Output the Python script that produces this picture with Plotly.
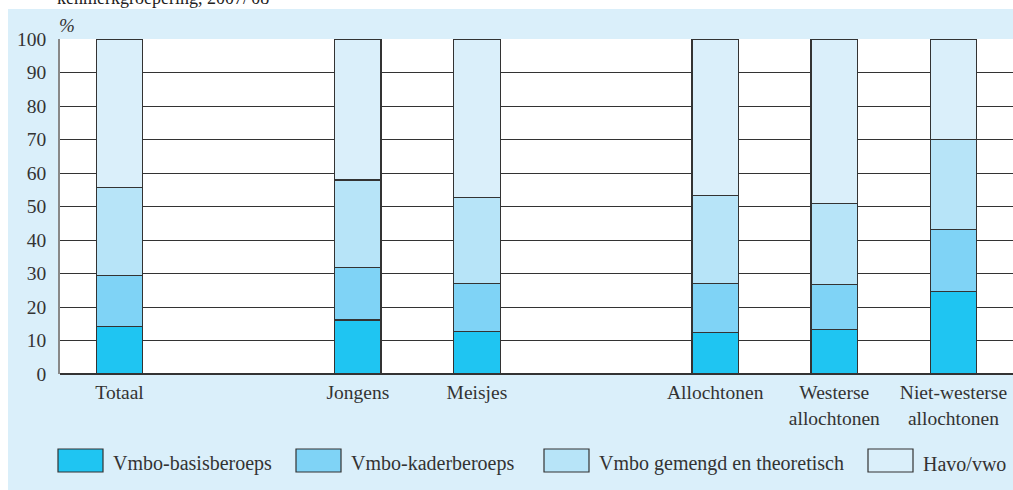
import plotly.graph_objects as go

# Leerlingen in leerjaar 3 naar onderwijssoort, per kenmerkgroep (%)
categories = ["Totaal", "Jongens", "Meisjes", "Allochtonen",
              "Westerse<br>allochtonen", "Niet-westerse<br>allochtonen"]
groups = [[0], [1, 2], [3, 4, 5]]  # index into categories, gap between groups

series = ["Vmbo-basisberoeps", "Vmbo-kaderberoeps",
          "Vmbo gemengd en theoretisch", "Havo/vwo"]
basis = [14.3, 16.1, 12.8, 12.3, 13.3, 24.6]
kader = [15.2, 15.7, 14.2, 14.7, 13.3, 18.6]
gemengd = [26.1, 26.1, 25.7, 26.2, 24.2, 26.7]
havo = [44.4, 42.1, 47.3, 46.8, 49.2, 30.1]

colors = ["#1fc5f2", "#7fd3f6", "#b7e4f8", "#daeffa"]
panel = "#daeffa"
ink = "#333333"
serif = "Liberation Serif"

# category order with empty slots between the groups
order = []
for i, g in enumerate(groups):
    if i > 0:
        order.append(" " * i)
    order += [categories[k] for k in g]

W, H = 1013, 490
L, R, T, B = 60, 0, 39, 116
pw, ph = W - L - R, H - T - B

def px(x):
    return (x - L) / pw

def py(y):
    return (H - B - y) / ph

fig = go.Figure()
for name, vals, col in zip(series, [basis, kader, gemengd, havo], colors):
    fig.add_trace(go.Bar(
        x=categories, y=vals, name=name, width=0.39,
        marker=dict(color=col, line=dict(color=ink, width=1.2)),
        showlegend=False,
    ))

shapes = [
    # white page strips outside the blue panel
    dict(type="rect", xref="paper", yref="paper", x0=px(-10), x1=px(W + 10),
         y0=py(9), y1=py(-10), fillcolor="white", line_width=0, layer="below"),
    dict(type="rect", xref="paper", yref="paper", x0=px(-10), x1=px(8),
         y0=py(H + 10), y1=py(-10), fillcolor="white", line_width=0, layer="below"),
]
annotations = [
    dict(text="kenmerkgroepering, 2007/'08", xref="paper", yref="paper",
         x=px(55), y=py(10), xanchor="left", yanchor="bottom", showarrow=False,
         font=dict(family=serif, size=18, color="#222"), ),
    dict(text="<i>%</i>", xref="paper", yref="paper", x=px(67), y=py(25),
         xanchor="center", yanchor="middle",
         showarrow=False, font=dict(family=serif, size=19, color=ink)),
]

# hand-drawn legend with large swatches
leg_x = [58, 296, 544, 868]
for name, col, x0 in zip(series, colors, leg_x):
    shapes.append(dict(type="rect", xref="paper", yref="paper",
                       x0=px(x0), x1=px(x0 + 45), y0=py(472), y1=py(449),
                       fillcolor=col, line=dict(color=ink, width=1.2)))
    annotations.append(dict(text=name, xref="paper", yref="paper",
                            x=px(x0 + 53), y=py(464), xanchor="left",
                            yanchor="middle", showarrow=False,
                            font=dict(family=serif, size=20, color=ink)))

fig.update_layout(
    width=W, height=H,
    margin=dict(l=L, r=R, t=T, b=B, pad=0),
    barmode="stack",
    paper_bgcolor=panel,
    plot_bgcolor="white",
    font=dict(family=serif, size=19.5, color=ink),
    shapes=shapes,
    annotations=annotations,
    xaxis=dict(type="category", categoryorder="array", categoryarray=order,
               range=[-0.5, len(order) - 0.5], showgrid=False,
               ticks="outside", ticklen=1, tickcolor="rgba(0,0,0,0)",
               fixedrange=True),
    yaxis=dict(range=[0, 100], dtick=10, showgrid=True, gridcolor=ink,
               gridwidth=1.2, zeroline=True, zerolinecolor=ink,
               zerolinewidth=1.5, showline=True, linecolor="#888",
               linewidth=1.5, ticks="outside", ticklen=8,
               tickcolor="rgba(0,0,0,0)", fixedrange=True),
)

fig.write_html("out.html", config={"displayModeBar": False},
               post_script="document.body.style.margin='0';"
                           "document.body.style.overflow='hidden';")
